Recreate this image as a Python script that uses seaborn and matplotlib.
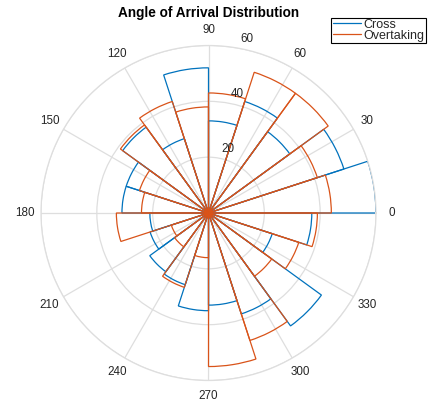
import numpy as np
import pandas as pd
import matplotlib
matplotlib.use("Agg")
import matplotlib.pyplot as plt
from matplotlib.lines import Line2D
import seaborn as sns

# Bin start angles (degrees), 20 bins of 18 degrees
bin_starts_deg = [0, 18, 36, 54, 72, 90, 108, 126, 144, 162,
                  180, 198, 216, 234, 252, 270, 288, 306, 324, 342]
cross_counts = [60, 51, 36, 42, 33, 52, 28, 38, 31, 31,
                21, 22, 26, 27, 35, 33, 38, 50, 24, 37]
overtaking_counts = [44, 41, 53, 53, 43, 38, 42, 39, 26, 24,
                     33, 14, 15, 28, 16, 55, 48, 28, 34, 39]
series_names = ["Cross", "Overtaking"]
theta_ticks = [0, 30, 60, 90, 120, 150, 180, 210, 240, 270, 300, 330]
r_ticks = [20, 40, 60]
title_text = "Angle of Arrival Distribution"

colors = {"Cross": "#0072BD", "Overtaking": "#D95319"}

sns.set_style("white")
plt.rcParams["font.family"] = ["Liberation Sans", "DejaVu Sans"]

width = 18
centers = np.deg2rad(np.array(bin_starts_deg, dtype=float) + width / 2)

df = pd.DataFrame({
    "theta": np.concatenate([centers, centers]),
    "count": np.array(cross_counts + overtaking_counts, dtype=float),
    "series": [series_names[0]] * len(centers) + [series_names[1]] * len(centers),
})

fig = plt.figure(figsize=(4.29, 4.05), dpi=100)
cx, cy, R = 208.5, 213.0, 167.5
W, H = 429.0, 405.0
ax = fig.add_axes([(cx - R) / W, (H - cy - R) / H, 2 * R / W, 2 * R / H],
                  projection="polar")

for name in series_names:
    sub = df[df["series"] == name]
    sns.histplot(data=sub, x="theta", weights="count",
                 bins=len(bin_starts_deg), binrange=(0, 2 * np.pi),
                 element="bars", fill=False, color=colors[name],
                 linewidth=0.9, ax=ax)

ax.set_xlabel("")
ax.set_ylabel("")
ax.set_thetalim(0, 2 * np.pi)
ax.set_ylim(0, 60)
ax.set_thetagrids(theta_ticks, [str(t) for t in theta_ticks])
ax.set_yticks(r_ticks)
ax.set_yticklabels([])
ax.tick_params(axis="x", pad=1, labelsize=8.4, colors="#262626")
ax.grid(True, color="#dedede", linewidth=0.9)
ax.spines["polar"].set_color("#dedede")
ax.spines["polar"].set_linewidth(0.9)
ax.set_axisbelow(True)

for r in r_ticks:
    ax.annotate(str(r), xy=(np.deg2rad(80), r), xytext=(2.0, 2.0),
                textcoords="offset points", ha="left", va="bottom",
                fontsize=8.4, color="#262626")

fig.text(cx / W, 1 - 13 / H, title_text, ha="center", va="center",
         fontsize=9.8, fontweight="bold", color="black")

handles = [Line2D([0], [0], color=colors[n], lw=0.9) for n in series_names]
leg = fig.legend(handles, series_names, loc="upper right",
                 bbox_to_anchor=(426 / W, 1 - 17.5 / H), fontsize=9,
                 frameon=True, fancybox=False, framealpha=1,
                 edgecolor="black", borderpad=0.1, labelspacing=-0.1,
                 handlelength=2.3, handletextpad=0.2, borderaxespad=0)
leg.get_frame().set_linewidth(0.8)

fig.savefig("out.png", dpi=100)
